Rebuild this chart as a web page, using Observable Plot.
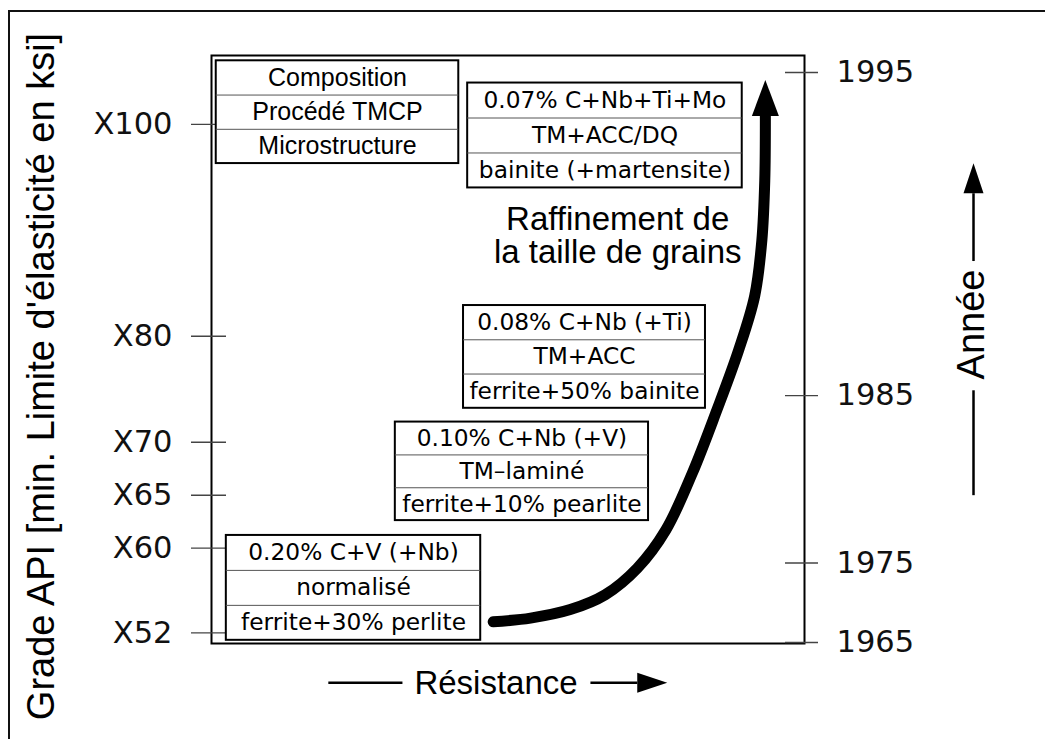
<!DOCTYPE html>
<html><head><meta charset="utf-8">
<script src="https://cdn.jsdelivr.net/npm/d3@7"></script>
<script src="https://cdn.jsdelivr.net/npm/@observablehq/plot@0.6"></script>
<style>
html,body{margin:0;padding:0;background:#fff;overflow:hidden}
#wrap{position:relative;width:1045px;height:739px;overflow:hidden;background:#fff}
#border{position:absolute;left:8px;top:10px;width:2000px;height:2000px;border:2px solid #111;box-sizing:border-box}
#chart{position:absolute;left:0;top:0}
</style></head><body>
<div id="wrap"><div id="border"></div><div id="chart"></div></div>
<script>
// ---- data ----
const gradeTicks = [52, 60, 65, 70, 80, 100];
const years = [1965, 1975, 1985, 1995];
const yearAtGrade = [51.1, 58.6, 74.4, 104.9];   // where each year sits on the grade axis

const legendRows = ["Composition", "Procédé TMCP", "Microstructure"];
const legendResistance = [0.8, 41.7];
const legendGrade = [96.3, 106.0];

const steelComposition = ["0.20% C+V (+Nb)", "0.10% C+Nb (+V)", "0.08% C+Nb (+Ti)", "0.07% C+Nb+Ti+Mo"];
const steelProcess = ["normalisé", "TM–laminé", "TM+ACC", "TM+ACC/DQ"];
const steelMicrostructure = ["ferrite+30% perlite", "ferrite+10% pearlite", "ferrite+50% bainite", "bainite (+martensite)"];
const boxResistance = [[2.5, 45.4], [31.0, 73.7], [42.5, 83.3], [43.2, 89.5]];
const boxGrade = [[51.3, 61.2], [62.6, 71.9], [73.2, 82.9], [94.0, 103.9]];

const arrowResistance = [47.5, 53.8, 60.5, 66.4, 71.8, 76.6, 81.1, 85.2, 88.9, 91.6, 92.8, 93.3, 93.4];
const arrowGrade = [53.05, 53.4, 54.2, 55.6, 58.1, 61.7, 67.1, 73.0, 78.7, 83.8, 89.0, 94.7, 100.8];

const refinementLines = ["Raffinement de", "la taille de grains"];
const refinementResistance = [68.5, 68.5];
const refinementGrade = [90.0, 86.9];

const axisArrowLines = [
  {x1: 19.7, y1: 47.3, x2: 32.2, y2: 47.3},
  {x1: 128.5, y1: 65.0, x2: 128.5, y2: 74.9}
];
const axisArrowHeads = [
  {x1: 63.9, y1: 47.3, x2: 71.8, y2: 47.3},
  {x1: 128.5, y1: 87.1, x2: 128.5, y2: 93.5}
];

// ---- derived tables ----
const yearOf = new Map(yearAtGrade.map((g, i) => [g, years[i]]));
const boxes = [
  {rows: legendRows, x: legendResistance, y: legendGrade, legend: true},
  ...steelComposition.map((c, i) => ({rows: [c, steelProcess[i], steelMicrostructure[i]], x: boxResistance[i], y: boxGrade[i], legend: false}))
];
const cells = boxes.flatMap((b, bi) => b.rows.map((t, r) => {
  const h = (b.y[1] - b.y[0]) / 3;
  return {box: bi, row: r, text: t, legend: b.legend, x1: b.x[0], x2: b.x[1], y1: b.y[1] - (r + 1) * h, y2: b.y[1] - r * h};
}));
const dividers = cells.filter(c => c.row < 2);
const arrowPts = arrowResistance.map((x, i) => ({x, y: arrowGrade[i]}));
const refinement = refinementLines.map((t, i) => ({text: t, x: refinementResistance[i], y: refinementGrade[i]}));

const chart = Plot.plot({
  width: 1045,
  height: 739,
  marginLeft: 211,
  marginRight: 241,
  marginTop: 55,
  marginBottom: 96,
  style: {background: "transparent", fontFamily: "DejaVu Sans", color: "#000"},
  x: {domain: [0, 100], axis: null},
  y: {domain: [51, 106.5], axis: null},
  marks: [
    Plot.frame({stroke: "#000", strokeWidth: 2}),
    Plot.axisY({anchor: "left", ticks: gradeTicks, tickFormat: d => "X" + d, tickSize: 35, dx: 15, tickPadding: 19,
      fontSize: 30.5, fontFamily: "DejaVu Sans", stroke: "#444", strokeWidth: 1.4, fill: "#111", label: null}),
    Plot.axisY({anchor: "right", ticks: yearAtGrade, tickFormat: d => String(yearOf.get(d)), tickSize: 33, dx: -20, tickPadding: 19,
      fontSize: 30.5, fontFamily: "DejaVu Sans", stroke: "#444", strokeWidth: 1.4, fill: "#111", label: null}),
    Plot.rect(boxes, {x1: d => d.x[0], x2: d => d.x[1], y1: d => d.y[0], y2: d => d.y[1], fill: "#fff", stroke: "#000", strokeWidth: 2}),
    Plot.ruleY(dividers, {y: "y1", x1: "x1", x2: "x2", stroke: "#555", strokeWidth: 1}),
    Plot.text(cells.filter(c => c.legend), {x: d => (d.x1 + d.x2) / 2, y: d => (d.y1 + d.y2) / 2, text: "text",
      fontFamily: "Liberation Sans", fontSize: 25, fill: "#000"}),
    Plot.text(cells.filter(c => !c.legend), {x: d => (d.x1 + d.x2) / 2, y: d => (d.y1 + d.y2) / 2, text: "text",
      fontFamily: "DejaVu Sans", fontSize: 23.3, fill: "#000"}),
    Plot.text(refinement, {x: "x", y: "y", text: "text", lineAnchor: "bottom",
      fontFamily: "Liberation Sans", fontSize: 33, fill: "#000"}),
    Plot.line(arrowPts, {x: "x", y: "y", curve: "catmull-rom", stroke: "#000", strokeWidth: 11, strokeLinecap: "round"}),
    Plot.link(axisArrowLines, {x1: "x1", y1: "y1", x2: "x2", y2: "y2", stroke: "#000", strokeWidth: 2.5}),
    Plot.link(axisArrowHeads, {x1: "x1", y1: "y1", x2: "x2", y2: "y2", stroke: "#000", strokeWidth: 2.5}),
    Plot.text(["Grade API [min. Limite d'élasticité en ksi]"], {frameAnchor: "left", text: d => d, rotate: -90, lineAnchor: "bottom", textAnchor: "middle",
      dx: -158, dy: 27, fontFamily: "Liberation Sans", fontSize: 38, fill: "#000"}),
    Plot.text(["Résistance"], {frameAnchor: "bottom", text: d => d, lineAnchor: "bottom", textAnchor: "middle",
      dx: -12, dy: 50, fontFamily: "Liberation Sans", fontSize: 33, fill: "#000"}),
    Plot.text(["Année"], {frameAnchor: "right", text: d => d, rotate: -90, lineAnchor: "bottom", textAnchor: "middle",
      dx: 179, dy: -25, fontFamily: "Liberation Sans", fontSize: 38, fill: "#000"})
  ]
});

// arrowheads (filled triangles) as SVG markers
const ns = "http://www.w3.org/2000/svg";
const defs = document.createElementNS(ns, "defs");
function addMarker(id, len, wid) {
  const m = document.createElementNS(ns, "marker");
  m.setAttribute("id", id);
  m.setAttribute("markerUnits", "userSpaceOnUse");
  m.setAttribute("markerWidth", len);
  m.setAttribute("markerHeight", wid);
  m.setAttribute("refX", 0);
  m.setAttribute("refY", wid / 2);
  m.setAttribute("orient", "auto");
  m.setAttribute("overflow", "visible");
  const p = document.createElementNS(ns, "path");
  p.setAttribute("d", `M0,0L${len},${wid / 2}L0,${wid}Z`);
  p.setAttribute("fill", "#000");
  p.setAttribute("stroke", "none");
  m.appendChild(p);
  defs.appendChild(m);
}
addMarker("head-big", 36, 27);
addMarker("head-small", 30, 20);
chart.insertBefore(defs, chart.firstChild);
chart.querySelectorAll('g[aria-label="line"] path').forEach(p => p.setAttribute("marker-end", "url(#head-big)"));
const linkGroups = chart.querySelectorAll('g[aria-label="link"]');
if (linkGroups.length > 1) linkGroups[1].querySelectorAll("path").forEach(p => p.setAttribute("marker-end", "url(#head-small)"));

document.getElementById("chart").appendChild(chart);
</script></body></html>
